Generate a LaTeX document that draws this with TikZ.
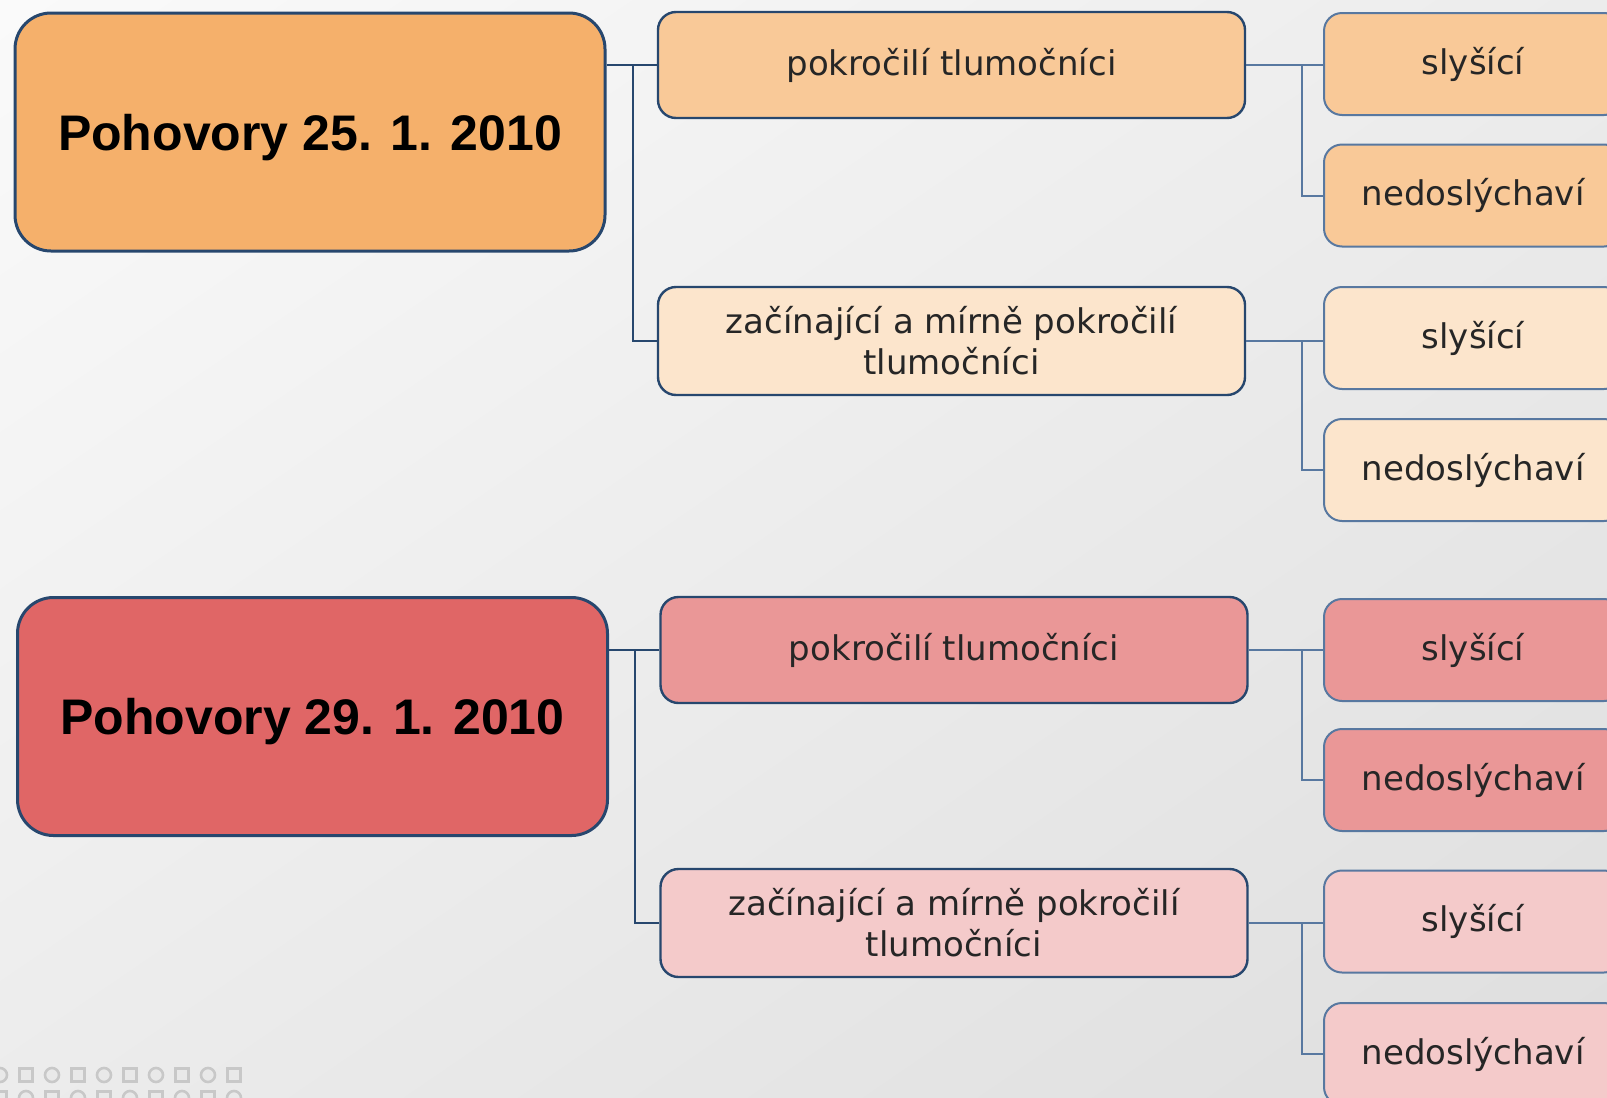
\documentclass[tikz,border=0pt]{standalone}
\usepackage{fontspec}
\setmainfont{DejaVu Sans}
\newfontfamily\titlefont{Liberation Sans}
\usetikzlibrary{shadings}
\definecolor{edge}{RGB}{39,71,110}
\definecolor{edgelight}{RGB}{88,120,160}
\definecolor{orangedark}{RGB}{245,176,107}
\definecolor{orangemid}{RGB}{249,201,152}
\definecolor{orangelight}{RGB}{252,229,204}
\definecolor{reddark}{RGB}{224,102,102}
\definecolor{redmid}{RGB}{234,151,151}
\definecolor{redlight}{RGB}{244,202,202}
\definecolor{dots}{RGB}{200,200,200}
\definecolor{bgA}{RGB}{250,250,250}
\definecolor{bgB}{RGB}{236,236,236}
\definecolor{bgC}{RGB}{236,236,236}
\definecolor{bgD}{RGB}{222,222,222}

\begin{document}
\begin{tikzpicture}[x=0.5pt, y=-0.5pt,
	datebox/.style={draw=edge, line width=1.5pt, rounded corners=18pt, minimum width=295pt, minimum height=119pt, inner sep=0pt, text depth=0pt, font=\titlefont\bfseries\fontsize{25}{30}\selectfont},
	groupbox/.style={draw=edge, line width=1.2pt, rounded corners=9pt, minimum width=293.5pt, minimum height=53pt, inner sep=0pt, align=center, text=black!85, font=\fontsize{17}{20.5}\selectfont},
	subbox/.style={draw=edgelight, line width=1pt, rounded corners=9pt, minimum width=149pt, minimum height=51pt, inner sep=0pt, text=black!85, font=\fontsize{17}{20.5}\selectfont},
	link/.style={draw=edge, line width=1.4pt},
	sublink/.style={draw=edgelight, line width=1pt}]
	\useasboundingbox (0,0) rectangle (1607,1098);
	\clip (0,0) rectangle (1607,1098);
	% Background
	\shade[upper left=bgA, upper right=bgB, lower left=bgC, lower right=bgD] (0,0) rectangle (1607,1098);
	\foreach \i in {0,...,9} {
		\ifodd\i
			\draw[dots, line width=1.3pt, fill=dots!40] ({26*\i-6.5},1068.5) rectangle ({26*\i+6.5},1081.5);
			\draw[dots, line width=1.3pt, fill=dots!40] ({26*\i},1098) circle (7);
		\else
			\draw[dots, line width=1.3pt, fill=dots!40] ({26*\i},1075) circle (7);
			\draw[dots, line width=1.3pt, fill=dots!40] ({26*\i-6.5},1091.5) rectangle ({26*\i+6.5},1104.5);
		\fi
	}
	% First date
	\node[datebox, fill=orangedark] (d1) at (310,132) {Pohovory 25. 1. 2010};
	\node[groupbox, fill=orangemid] (g11) at (951.5,65) {pokročilí tlumočníci};
	\node[groupbox, fill=orangelight, minimum height=54pt] (g12) at (951.5,341) {začínající a mírně pokročilí\\tlumočníci};
	\node[subbox, fill=orangemid] (s111) at (1473,64) {slyšící};
	\node[subbox, fill=orangemid] (s112) at (1473,195.5) {nedoslýchaví};
	\node[subbox, fill=orangelight] (s121) at (1473,338) {slyšící};
	\node[subbox, fill=orangelight] (s122) at (1473,470) {nedoslýchaví};
	% Second date
	\node[datebox, fill=reddark] (d2) at (312.5,716.5) {Pohovory 29. 1. 2010};
	\node[groupbox, fill=redmid] (g21) at (954,650) {pokročilí tlumočníci};
	\node[groupbox, fill=redlight, minimum height=54pt] (g22) at (954,923) {začínající a mírně pokročilí\\tlumočníci};
	\node[subbox, fill=redmid] (s211) at (1473,650) {slyšící};
	\node[subbox, fill=redmid] (s212) at (1473,780) {nedoslýchaví};
	\node[subbox, fill=redlight] (s221) at (1473,921.5) {slyšící};
	\node[subbox, fill=redlight] (s222) at (1473,1054) {nedoslýchaví};
	% Connections
	\coordinate (t1) at (633,65);
	\coordinate (t2) at (635,650);
	\draw[link] (d1.east |- g11.west) -- (g11.west);
	\draw[link] (t1) |- (g12.west);
	\draw[link] (d2.east |- g21.west) -- (g21.west);
	\draw[link] (t2) |- (g22.west);
	\coordinate (t11) at (1302,65);
	\coordinate (t12) at (1302,341);
	\coordinate (t21) at (1302,650);
	\coordinate (t22) at (1302,923);
	\draw[sublink] (g11.east) -- (g11.east -| s111.west);
	\draw[sublink] (t11) |- (s112.west);
	\draw[sublink] (g12.east) -- (g12.east -| s121.west);
	\draw[sublink] (t12) |- (s122.west);
	\draw[sublink] (g21.east) -- (g21.east -| s211.west);
	\draw[sublink] (t21) |- (s212.west);
	\draw[sublink] (g22.east) -- (g22.east -| s221.west);
	\draw[sublink] (t22) |- (s222.west);
\end{tikzpicture}
\end{document}
